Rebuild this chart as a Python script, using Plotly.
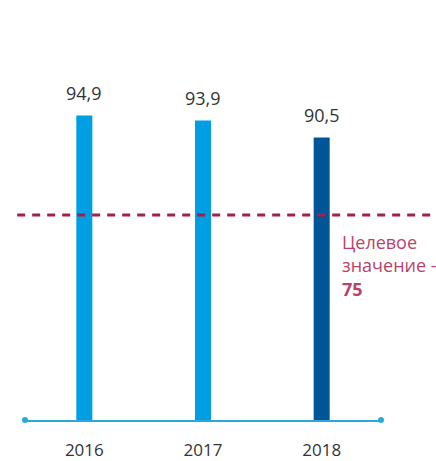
import plotly.graph_objects as go

# Données
years = ["2016", "2017", "2018"]
values = [94.9, 93.9, 90.5]
bar_colors = ["#009fe3", "#009fe3", "#005596"]
target = 75
target_label = "Целевое<br>значение -<br><b>75</b>"

y_range = [34, 118]
x_range = [-0.5, 2.5]

fig = go.Figure()

# les barres partent du bas de l'axe : on retranche la base pour garder la bonne hauteur
fig.add_trace(go.Bar(
    x=list(range(len(years))),
    y=[v - y_range[0] for v in values],
    base=y_range[0],
    marker=dict(color=bar_colors, line=dict(width=0)),
    width=0.135,
    showlegend=False,
))

# Points aux extrémités de l'axe
fig.add_trace(go.Scatter(
    x=x_range, y=[y_range[0], y_range[0]],
    mode="markers", marker=dict(color="#29a8e0", size=6),
    cliponaxis=False, showlegend=False, hoverinfo="skip",
))

# Valeurs au-dessus des barres
for i, v in enumerate(values):
    fig.add_annotation(
        x=i, y=v, text=f"{v:.1f}".replace(".", ","),
        showarrow=False, yanchor="bottom", yshift=9,
        font=dict(size=18, color="#333333"),
    )

# Ligne cible
fig.add_shape(
    type="line", xref="paper", yref="y",
    x0=-0.022, x1=1.2, y0=target, y1=target,
    line=dict(color="#a51f4b", width=3, dash="8px,7px"),
    layer="above",
)
fig.add_annotation(
    xref="paper", yref="y", x=0.885, y=target,
    text=target_label, showarrow=False,
    xanchor="left", yanchor="top", yshift=-13, align="left",
    font=dict(size=18, color="#b8436a"),
)

fig.update_xaxes(
    range=x_range, tickvals=list(range(len(years))), ticktext=years,
    showline=True, linecolor="#29a8e0", linewidth=2,
    showgrid=False, zeroline=False, ticks="",
    ticklabelstandoff=14,
    tickfont=dict(size=17, color="#333333"),
)
fig.update_yaxes(range=y_range, visible=False, showgrid=False)

fig.update_layout(
    width=436, height=461,
    margin=dict(l=25, r=55, t=0, b=39),
    plot_bgcolor="white", paper_bgcolor="white",
    font=dict(family="Open Sans"),
)

# marge du body à zéro pour que la figure remplisse la fenêtre
fig.write_html(
    "out.html",
    config={"displayModeBar": False},
    post_script="document.body.style.margin = '0';",
)
